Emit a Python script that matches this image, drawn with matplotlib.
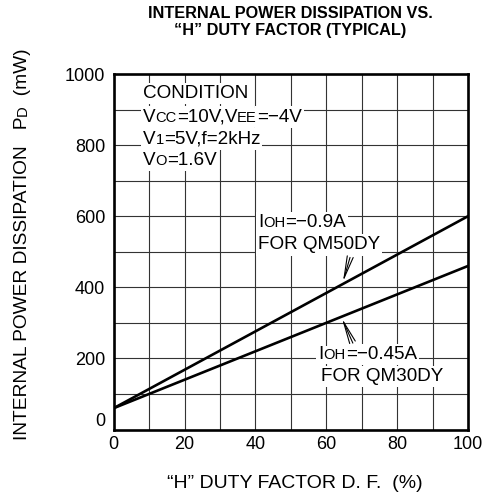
import numpy as np
import matplotlib
matplotlib.use('Agg')
import matplotlib.pyplot as plt
from matplotlib.offsetbox import TextArea, HPacker, AnnotationBbox

plt.rcParams['font.family'] = ['Liberation Sans', 'DejaVu Sans']

# data
duty = [0, 100]
pd_qm50 = [60, 600]   # IOH = -0.9A
pd_qm30 = [60, 460]   # IOH = -0.45A
xticks = [0, 20, 40, 60, 80, 100]
yticks = [0, 200, 400, 600, 800, 1000]

W, H = 489, 497
fig = plt.figure(figsize=(W / 100, H / 100), dpi=100)
L, R, T, B = 113.7, 468, 74, 429.5
ax = fig.add_axes([L / W, (H - B) / H, (R - L) / W, (B - T) / H])

ax.set_xlim(0, 100)
ax.set_ylim(0, 1000)
ax.set_xticks(xticks)
ax.set_yticks(yticks)
ax.set_xticks(np.arange(0, 101, 10), minor=True)
ax.set_yticks(np.arange(0, 1001, 100), minor=True)
ax.grid(which='both', color='#333333', linewidth=0.8)
ax.tick_params(which='both', length=0, labelsize=13)
ax.tick_params(axis='x', pad=4.5)
ax.tick_params(axis='y', pad=6)
ax.yaxis.get_major_ticks()[0].label1.set_va('bottom')
for s in ax.spines.values():
    s.set_linewidth(1.9)

ax.plot(duty, pd_qm50, color='black', linewidth=1.9, zorder=3)
ax.plot(duty, pd_qm30, color='black', linewidth=1.9, zorder=3)


def rich(parts, xy, size=13.6):
    # parts: list of (text, small); small caps drawn as smaller letters
    # first pass: white patches behind the row, second pass: the text
    for k, z in [(0, 4), (1, 4.2)]:
        kids = []
        for t, sm in parts:
            props = dict(fontsize=size * 0.78 if sm else size)
            if k == 0:
                props.update(color='white', bbox=dict(fc='white', ec='none', pad=1.5))
            kids.append(TextArea(t, textprops=props))
        box = HPacker(children=kids, align='baseline', pad=0, sep=0)
        ab = AnnotationBbox(box, xy, xycoords='data', box_alignment=(0, 0.5),
                            frameon=False, zorder=z)
        ax.add_artist(ab)


# condition block
rich([('CONDITION', False)], (8.2, 946))
rich([('V', False), ('CC', True), ('=10V,V', False), ('EE', True), ('=\u22124V', False)], (8.2, 879))
rich([('V', False), ('1', True), ('=5V,f=2kHz', False)], (8.2, 817))
rich([('V', False), ('O', True), ('=1.6V', False)], (8.2, 758))

# curve labels
rich([('I', False), ('OH', True), ('=\u22120.9A', False)], (40.7, 581))
rich([('FOR QM50DY', False)], (40.7, 519))
rich([('I', False), ('OH', True), ('=\u22120.45A', False)], (57.7, 210))
rich([('FOR QM30DY', False)], (58.5, 148))

arr = dict(arrowstyle='->,head_length=1.6,head_width=0.22', color='black', lw=0.8,
           shrinkA=0, shrinkB=0)
ax.annotate('', xy=(64.7, 415), xytext=(66.7, 484), arrowprops=arr, zorder=5)
ax.annotate('', xy=(64.4, 313), xytext=(67.5, 243), arrowprops=arr, zorder=5)

# title
fig.text(290 / W, 1 - 14 / H, 'INTERNAL POWER DISSIPATION VS.', ha='center', va='center',
         fontsize=11.7, fontweight='bold')
fig.text(290 / W, 1 - 31 / H, '\u201cH\u201d DUTY FACTOR (TYPICAL)', ha='center', va='center',
         fontsize=11.7, fontweight='bold')

# x label
fig.text(295 / W, 1 - 483 / H, '\u201cH\u201d DUTY FACTOR D. F.  (%)', ha='center', va='center',
         fontsize=14)

# y label built from pieces, running upward
fig.canvas.draw()
rend = fig.canvas.get_renderer()
xb = 27
y = H - 440
for t, sm in [('INTERNAL POWER DISSIPATION   P', False), ('D', True), ('  (mW)', False)]:
    txt = fig.text(xb / W, y / H, t, rotation=90, rotation_mode='anchor',
                   ha='left', va='baseline', fontsize=13.8 * 0.78 if sm else 13.8)
    ext = txt.get_window_extent(rend)
    y += ext.height

fig.savefig('out.png', dpi=100)
